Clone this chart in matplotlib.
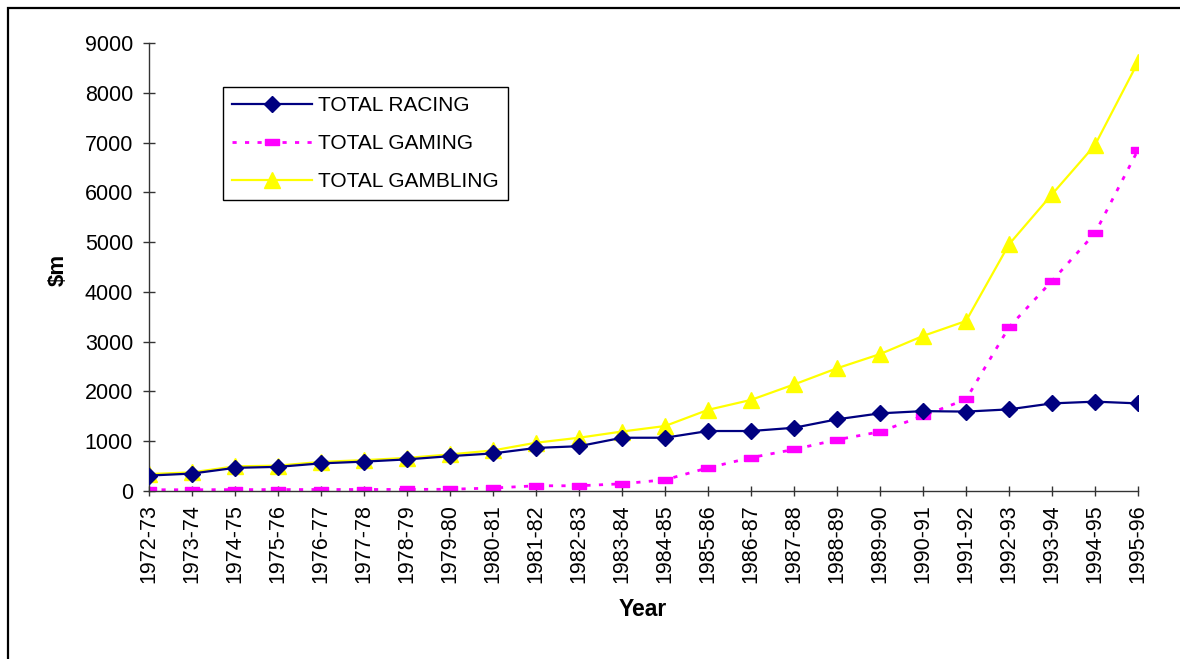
import matplotlib
matplotlib.use("Agg")
import matplotlib.pyplot as plt
from matplotlib.patches import Rectangle

plt.rcParams['font.family'] = ['Liberation Sans', 'DejaVu Sans']

years = ["1972-73", "1973-74", "1974-75", "1975-76", "1976-77", "1977-78",
         "1978-79", "1979-80", "1980-81", "1981-82", "1982-83", "1983-84",
         "1984-85", "1985-86", "1986-87", "1987-88", "1988-89", "1989-90",
         "1990-91", "1991-92", "1992-93", "1993-94", "1994-95", "1995-96"]

racing = [310, 350, 465, 485, 555, 590, 635, 700, 755, 865, 900, 1070,
          1070, 1205, 1205, 1270, 1440, 1560, 1605, 1595, 1640, 1760, 1795, 1760]
gaming = [25, 25, 28, 28, 30, 30, 32, 35, 60, 105, 105, 145,
          225, 465, 670, 835, 1030, 1190, 1510, 1840, 3290, 4220, 5180, 6850]
gambling = [340, 375, 495, 510, 585, 620, 665, 735, 815, 970, 1070, 1195,
            1305, 1630, 1830, 2140, 2465, 2750, 3115, 3415, 4955, 5960, 6950, 8615]

yticks = [0, 1000, 2000, 3000, 4000, 5000, 6000, 7000, 8000, 9000]

W, H = 1180, 659
fig = plt.figure(figsize=(W / 100, H / 100), dpi=100)
ax = fig.add_axes([149 / W, 1 - 491 / H, (1138 - 149) / W, (491 - 43) / H])

x = list(range(len(years)))

# flat rectangle marker for the gaming series
rect = [(-1, -0.5), (1, -0.5), (1, 0.5), (-1, 0.5), (-1, -0.5)]

ax.plot(x, racing, color='#000080', lw=1.6, marker='D', ms=8,
        label='TOTAL RACING', zorder=3)
ax.plot(x, gaming, color='#FF00FF', lw=2, ls=(0, (1.5, 3)), marker=rect, ms=10,
        label='TOTAL GAMING', zorder=2)
ax.plot(x, gambling, color='#FFFF00', lw=1.6, marker='^', ms=11,
        label='TOTAL GAMBLING', zorder=1)

ax.set_xlim(0, len(years) - 1)
ax.set_ylim(0, 9000)
ax.set_yticks(yticks)
ax.set_yticklabels([str(v) for v in yticks])
ax.set_xticks(x)
ax.set_xticklabels(years, rotation=90)

for s in ['top', 'right']:
    ax.spines[s].set_visible(False)
for s in ['left', 'bottom']:
    ax.spines[s].set_color('#333333')
    ax.spines[s].set_linewidth(1)

ax.tick_params(axis='y', direction='inout', length=9, width=1, color='#333333',
               labelsize=15.5, pad=7)
ax.tick_params(axis='x', direction='inout', length=7, width=1, color='#333333',
               labelsize=15.5, pad=6)

fig.text(58 / W, 1 - 270 / H, '$m', rotation=90, ha='center', va='center',
         fontsize=16, fontweight='bold')
fig.text(643 / W, 1 - 609 / H, 'Year', ha='center', va='center',
         fontsize=16.5, fontweight='bold')

leg = ax.legend(loc='upper left', bbox_to_anchor=(223 / W, 1 - 87 / H),
                bbox_transform=fig.transFigure, borderaxespad=0,
                fontsize=15, frameon=True, fancybox=False, framealpha=1,
                edgecolor='black', handlelength=3.8, handletextpad=0.3,
                labelspacing=0.9, borderpad=0.45)
leg.get_frame().set_linewidth(1)

# outer frame around the chart
fig.add_artist(Rectangle((8 / W, -0.1), 1.2, 1.1 - 8 / H,
                         transform=fig.transFigure, fill=False,
                         edgecolor='black', lw=1.6, clip_on=False))

fig.savefig('out.png', dpi=100, facecolor='white')
